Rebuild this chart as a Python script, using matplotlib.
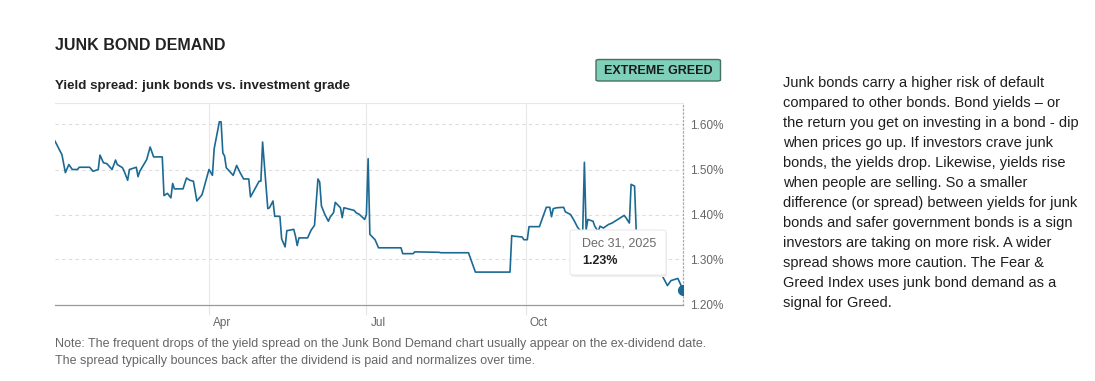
import numpy as np
import pandas as pd
import matplotlib
matplotlib.use('Agg')
import matplotlib.pyplot as plt
import matplotlib.dates as mdates
from matplotlib.patches import FancyBboxPatch
from matplotlib.transforms import ScaledTranslation

plt.rcParams['font.family'] = ['Liberation Sans', 'DejaVu Sans']

# Junk bond spread, days counted from Jan 1 2025
days = [1, 5, 7, 9, 11, 14, 15, 21, 23, 26, 27, 29, 31, 34, 36, 37, 40, 41, 43, 44,
        48, 49, 50, 54, 56, 58, 63, 64, 66, 68, 69, 70, 75, 77, 79, 81, 83, 86, 90, 92,
        93, 96, 97, 98, 99, 100, 104, 106, 108, 110, 113, 114, 119, 120, 121, 124, 125, 127, 128, 131,
        132, 134, 135, 139, 140, 141, 142, 147, 149, 151, 153, 154, 155, 157, 159, 160, 162, 163, 165, 166,
        167, 168, 174, 175, 176, 177, 180, 181, 182, 183, 186, 188, 201, 202, 208, 209, 223, 224, 240, 244,
        264, 265, 266, 271, 272, 274, 275, 281, 285, 287, 288, 289, 291, 295, 296, 299, 301, 303, 305, 306,
        307, 308, 309, 312, 313, 315, 316, 318, 321, 323, 330, 331, 333, 334, 336, 337, 340, 344, 348, 351,
        352, 355, 357, 361, 364]
spread = [1.563, 1.533, 1.493, 1.511, 1.500, 1.500, 1.505, 1.505, 1.496, 1.500, 1.532, 1.515, 1.513, 1.500, 1.521, 1.511, 1.504, 1.496, 1.476, 1.500,
          1.505, 1.484, 1.496, 1.522, 1.550, 1.528, 1.528, 1.442, 1.447, 1.437, 1.469, 1.457, 1.457, 1.481, 1.476, 1.474, 1.430, 1.444, 1.500, 1.487,
          1.546, 1.606, 1.606, 1.537, 1.530, 1.504, 1.487, 1.509, 1.493, 1.479, 1.479, 1.439, 1.474, 1.474, 1.561, 1.413, 1.415, 1.430, 1.396, 1.396,
          1.346, 1.328, 1.364, 1.367, 1.352, 1.331, 1.348, 1.348, 1.365, 1.376, 1.479, 1.472, 1.419, 1.400, 1.385, 1.394, 1.404, 1.427, 1.419, 1.415,
          1.393, 1.415, 1.409, 1.404, 1.402, 1.400, 1.389, 1.400, 1.524, 1.356, 1.344, 1.326, 1.326, 1.313, 1.313, 1.317, 1.316, 1.315, 1.315, 1.272,
          1.272, 1.353, 1.352, 1.350, 1.344, 1.344, 1.373, 1.373, 1.416, 1.416, 1.395, 1.413, 1.415, 1.416, 1.406, 1.400, 1.387, 1.372, 1.362, 1.358,
          1.516, 1.366, 1.389, 1.385, 1.374, 1.362, 1.374, 1.370, 1.378, 1.381, 1.398, 1.393, 1.381, 1.467, 1.463, 1.360, 1.345, 1.330, 1.310, 1.285,
          1.264, 1.242, 1.253, 1.258, 1.233]

yticks = [1.20, 1.30, 1.40, 1.50, 1.60]
month_ticks = ['2025-04-01', '2025-07-01', '2025-10-01']
month_labels = ['Apr', 'Jul', 'Oct']

side_text = [
    "Junk bonds carry a higher risk of default",
    "compared to other bonds. Bond yields \u2013 or",
    "the return you get on investing in a bond - dip",
    "when prices go up. If investors crave junk",
    "bonds, the yields drop. Likewise, yields rise",
    "when people are selling. So a smaller",
    "difference (or spread) between yields for junk",
    "bonds and safer government bonds is a sign",
    "investors are taking on more risk. A wider",
    "spread shows more caution. The Fear &",
    "Greed Index uses junk bond demand as a",
    "signal for Greed.",
]
note_text = [
    "Note: The frequent drops of the yield spread on the Junk Bond Demand chart usually appear on the ex-dividend date.",
    "The spread typically bounces back after the dividend is paid and normalizes over time.",
]

W, H = 1095, 381
fig = plt.figure(figsize=(W / 100, H / 100), dpi=100)


def fx(px):
    return px / W


def fy(py):
    return 1 - py / H


dates = pd.Timestamp('2025-01-01') + pd.to_timedelta(days, unit='D')
line_color = '#1c6a94'

ax = fig.add_axes([fx(55), fy(304.5), fx(683) - fx(55), fy(103) - fy(304.5)])
ax.plot(dates, spread, color=line_color, lw=1.2, zorder=3)
ax.plot(dates[-1:], spread[-1:], 'o', color=line_color, ms=7, zorder=4)

ax.set_xlim(dates[0], dates[-1])
ax.set_ylim(1.20, 1.20 + 201.5 / 450)

ax.set_yticks(yticks)
ax.set_yticklabels([f'{v:.2f}%' for v in yticks])
ax.yaxis.tick_right()
ax.tick_params(axis='y', length=0, pad=5, labelsize=8.5, labelcolor='#666666')
for v in yticks[1:]:
    ax.axhline(v, color='#dcdcdc', lw=0.8, ls=(0, (3, 3)), zorder=1)

ax.set_xticks(pd.to_datetime(month_ticks))
ax.set_xticklabels(month_labels)
ax.tick_params(axis='x', length=7, width=0.8, color='#e4e4e4', pad=2,
               labelsize=8.5, labelcolor='#666666')
for lab in ax.get_xticklabels():
    lab.set_ha('left')
    lab.set_transform(lab.get_transform() + ScaledTranslation(3 / 72, 0, fig.dpi_scale_trans))
ax.grid(axis='x', color='#e8e8e8', lw=0.8, zorder=0)

ax.spines['left'].set_visible(False)
ax.spines['top'].set_color('#e8e8e8')
ax.spines['top'].set_linewidth(0.8)
ax.spines['bottom'].set_color('#9a9a9a')
ax.spines['bottom'].set_linewidth(0.9)
ax.spines['right'].set_color('#aaaaaa')
ax.spines['right'].set_linestyle((0, (1, 2)))
ax.spines['right'].set_linewidth(0.9)

# tooltip box
shadow = FancyBboxPatch((fx(571), fy(277)), fx(667) - fx(571), fy(232) - fy(277),
                        boxstyle='round,pad=0,rounding_size=0.004', transform=fig.transFigure,
                        fc='#eeeeee', ec='none', zorder=5)
tip = FancyBboxPatch((fx(570), fy(275)), fx(666) - fx(570), fy(230) - fy(275),
                     boxstyle='round,pad=0,rounding_size=0.004', transform=fig.transFigure,
                     fc='white', ec='#eaeaea', lw=0.8, zorder=6)
fig.patches.extend([shadow, tip])
fig.text(fx(582), fy(243), 'Dec 31, 2025', fontsize=9, color='#6b6b6b', va='center', zorder=7)
fig.text(fx(582), fy(261), f'{spread[-1]:.2f}%', fontsize=9, color='#222222',
         va='center', fontweight='semibold', zorder=7)

# headers
fig.text(fx(55), fy(45), 'JUNK BOND DEMAND', fontsize=11.5, fontweight='bold',
         color='#222222', va='center')
fig.text(fx(55), fy(85.5), 'Yield spread: junk bonds vs. investment grade', fontsize=9.6,
         fontweight='bold', color='#222222', va='center')

badge = FancyBboxPatch((fx(596), fy(81)), fx(720.5) - fx(596), fy(59.5) - fy(81),
                       boxstyle='round,pad=0,rounding_size=0.003', transform=fig.transFigure,
                       fc='#7fd0b8', ec='#46705f', lw=1)
fig.patches.append(badge)
fig.text(fx(658), fy(70.5), 'EXTREME GREED', fontsize=9, fontweight='bold',
         color='#1a1a1a', ha='center', va='center')

for i, line in enumerate(side_text):
    fig.text(fx(783), fy(83 + 20 * i), line, fontsize=10.5, color='#1e1e1e', va='center')

for i, line in enumerate(note_text):
    fig.text(fx(55), fy(344.5 + 16.5 * i), line, fontsize=9, color='#666666', va='center')

fig.savefig('out.png', dpi=100, facecolor='white')
